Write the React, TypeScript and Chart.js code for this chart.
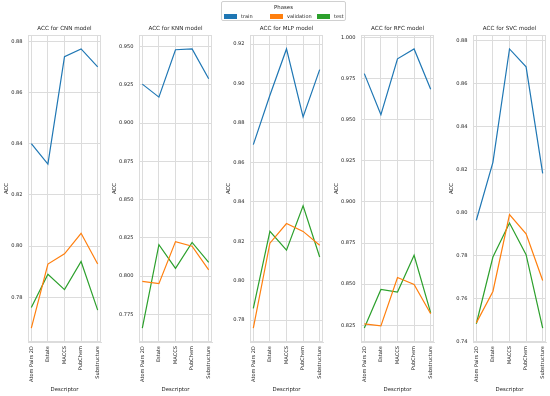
import React, { useEffect, useRef } from "react";
import { Chart, registerables } from "chart.js";

Chart.register(...registerables);

// ---------- data ----------
const descriptors = ["Atom Pairs 2D", "Estate", "MACCS", "PubChem", "Substructure"];
const phases = ["train", "validation", "test"];
const models = ["CNN", "KNN", "MLP", "RFC", "SVC"];

const cnnTrain = [0.840, 0.832, 0.874, 0.877, 0.870];
const cnnValidation = [0.768, 0.793, 0.797, 0.805, 0.793];
const cnnTest = [0.776, 0.789, 0.783, 0.794, 0.775];

const knnTrain = [0.9255, 0.917, 0.948, 0.9485, 0.929];
const knnValidation = [0.7965, 0.795, 0.8225, 0.8195, 0.804];
const knnTest = [0.766, 0.8205, 0.805, 0.822, 0.809];

const mlpTrain = [0.869, 0.894, 0.9175, 0.883, 0.907];
const mlpValidation = [0.776, 0.819, 0.829, 0.825, 0.818];
const mlpTest = [0.786, 0.825, 0.8155, 0.838, 0.812];

const rfcTrain = [0.978, 0.953, 0.987, 0.993, 0.9685];
const rfcValidation = [0.8258, 0.8246, 0.854, 0.8498, 0.832];
const rfcTest = [0.8233, 0.8468, 0.8452, 0.8675, 0.8325];

const svcTrain = [0.7966, 0.8235, 0.8762, 0.8679, 0.8184];
const svcValidation = [0.7489, 0.7635, 0.7992, 0.7903, 0.7686];
const svcTest = [0.7485, 0.7795, 0.7953, 0.7806, 0.7465];

const cnnTicks = ["0.78", "0.80", "0.82", "0.84", "0.86", "0.88"];
const knnTicks = ["0.775", "0.800", "0.825", "0.850", "0.875", "0.900", "0.925", "0.950"];
const mlpTicks = ["0.78", "0.80", "0.82", "0.84", "0.86", "0.88", "0.90", "0.92"];
const rfcTicks = ["0.825", "0.850", "0.875", "0.900", "0.925", "0.950", "0.975", "1.000"];
const svcTicks = ["0.74", "0.76", "0.78", "0.80", "0.82", "0.84", "0.86", "0.88"];

const seriesByModel = [
  [cnnTrain, cnnValidation, cnnTest],
  [knnTrain, knnValidation, knnTest],
  [mlpTrain, mlpValidation, mlpTest],
  [rfcTrain, rfcValidation, rfcTest],
  [svcTrain, svcValidation, svcTest],
];
const ticksByModel = [cnnTicks, knnTicks, mlpTicks, rfcTicks, svcTicks];

// ---------- style / layout ----------
const phaseColors = ["#1f77b4", "#ff7f0e", "#2ca02c"];
const FONT = "'DejaVu Sans', sans-serif";
const TEXT = "#262626";
const GRID = "#dcdcdc";
const plotLefts = [28, 139, 250, 361, 473];
const PLOT_W = 73;
const PLOT_BOTTOM = 342;
const AXW = 34;
const PADR = 8;
const H = 396;
const yTitleOffsets = [21, 24.4, 21, 24.4, 21];
const TITLE_SIZE = 5.6;
const AXIS_TITLE_SIZE = 5.4;
const TICK_SIZE = 5.1;

const framePlugin = {
  id: "frame",
  beforeDatasetsDraw(chart: any) {
    const { ctx, chartArea: a } = chart;
    ctx.save();
    ctx.strokeStyle = GRID;
    ctx.lineWidth = 1;
    ctx.strokeRect(
      Math.round(a.left) + 0.5,
      Math.round(a.top) + 0.5,
      Math.round(a.right - a.left) - 1,
      Math.round(a.bottom - a.top) - 1
    );
    ctx.restore();
  },
};

function SubChart({ index }: { index: number }) {
  const ref = useRef<HTMLCanvasElement | null>(null);
  useEffect(() => {
    if (!ref.current) return;
    const series = seriesByModel[index];
    const all = series.flat();
    const lo = Math.min(...all);
    const hi = Math.max(...all);
    const m = (hi - lo) * 0.05;
    const tickLabels = ticksByModel[index];
    const tickFont = { family: FONT, size: TICK_SIZE };
    const axisFont = { family: FONT, size: AXIS_TITLE_SIZE };
    const chart = new Chart(ref.current, {
      type: "line",
      data: {
        datasets: series.map((vals, k) => ({
          label: phases[k],
          data: vals.map((v, i) => ({ x: i, y: v })),
          borderColor: phaseColors[k],
          backgroundColor: phaseColors[k],
          borderWidth: 1.2,
          pointRadius: 0,
          tension: 0,
          fill: false,
        })),
      },
      options: {
        animation: false,
        responsive: false,
        maintainAspectRatio: false,
        layout: { padding: { top: 0, right: PADR, bottom: 0, left: 0 } },
        plugins: {
          legend: { display: false },
          tooltip: { enabled: false },
          title: {
            display: true,
            fullSize: false,
            text: `ACC for ${models[index]} model`,
            color: TEXT,
            font: { family: FONT, size: TITLE_SIZE, weight: "normal" },
            padding: { top: 25, bottom: 35 - 25 - TITLE_SIZE * 1.2 },
          },
        },
        scales: {
          x: {
            type: "linear",
            min: -0.2,
            max: 4.2,
            afterBuildTicks: (s: any) => {
              s.ticks = descriptors.map((_, i) => ({ value: i }));
            },
            afterFit: (s: any) => {
              s.height = H - PLOT_BOTTOM;
            },
            ticks: {
              autoSkip: false,
              minRotation: 90,
              maxRotation: 90,
              padding: 4,
              color: TEXT,
              font: tickFont,
              callback: (v: any) => descriptors[Math.round(Number(v))] ?? "",
            },
            grid: { color: GRID, lineWidth: 1, drawTicks: false },
            border: { display: true, color: GRID },
            title: {
              display: true,
              text: "Descriptor",
              color: TEXT,
              font: axisFont,
              padding: { top: 0, bottom: 6 - (AXIS_TITLE_SIZE * 1.2) / 2 },
            },
          },
          y: {
            type: "linear",
            min: lo - m,
            max: hi + m,
            afterBuildTicks: (s: any) => {
              s.ticks = tickLabels.map((t) => ({ value: parseFloat(t) }));
            },
            afterFit: (s: any) => {
              s.width = AXW;
            },
            ticks: {
              padding: 5.5,
              color: TEXT,
              font: tickFont,
              callback: (_v: any, i: number) => tickLabels[i],
            },
            grid: { color: GRID, lineWidth: 1, drawTicks: false },
            border: { display: true, color: GRID },
            title: {
              display: true,
              text: "ACC",
              color: TEXT,
              font: axisFont,
              padding: {
                top: AXW - yTitleOffsets[index] - (AXIS_TITLE_SIZE * 1.2) / 2,
                bottom: 0,
              },
            },
          },
        },
      } as any,
      plugins: [framePlugin],
    });
    return () => chart.destroy();
  }, [index]);
  const w = AXW + PLOT_W + PADR;
  return (
    <canvas
      ref={ref}
      width={w}
      height={H}
      style={{
        position: "absolute",
        left: plotLefts[index] - AXW,
        top: 0,
        width: w,
        height: H,
      }}
    />
  );
}

const legendPatchX = [223, 269, 316];
const legendTextX = [240, 286, 333];

function Legend() {
  return (
    <div
      style={{
        position: "absolute",
        left: 221,
        top: 1,
        width: 125,
        height: 20,
        border: "1px solid #d0d0d0",
        borderRadius: 2,
        background: "rgba(255,255,255,0.8)",
        boxSizing: "border-box",
        fontFamily: FONT,
        color: TEXT,
        zIndex: 10,
      }}
    >
      <div
        style={{
          position: "absolute",
          left: 0,
          width: "100%",
          top: 2,
          textAlign: "center",
          fontSize: 5.4,
          lineHeight: "7px",
        }}
      >
        Phases
      </div>
      {phases.map((p, k) => (
        <React.Fragment key={p}>
          <div
            style={{
              position: "absolute",
              left: legendPatchX[k] - 221,
              top: 12,
              width: 13,
              height: 4.5,
              background: phaseColors[k],
            }}
          />
          <div
            style={{
              position: "absolute",
              left: legendTextX[k] - 221,
              top: 10.5,
              fontSize: 5,
              lineHeight: "7px",
              whiteSpace: "nowrap",
            }}
          >
            {p}
          </div>
        </React.Fragment>
      ))}
    </div>
  );
}

export default function App() {
  return (
    <div
      style={{
        position: "absolute",
        left: 0,
        top: 0,
        width: 550,
        height: 396,
        background: "#ffffff",
        overflow: "hidden",
      }}
    >
      {models.map((_, i) => (
        <SubChart key={i} index={i} />
      ))}
      <Legend />
    </div>
  );
}
